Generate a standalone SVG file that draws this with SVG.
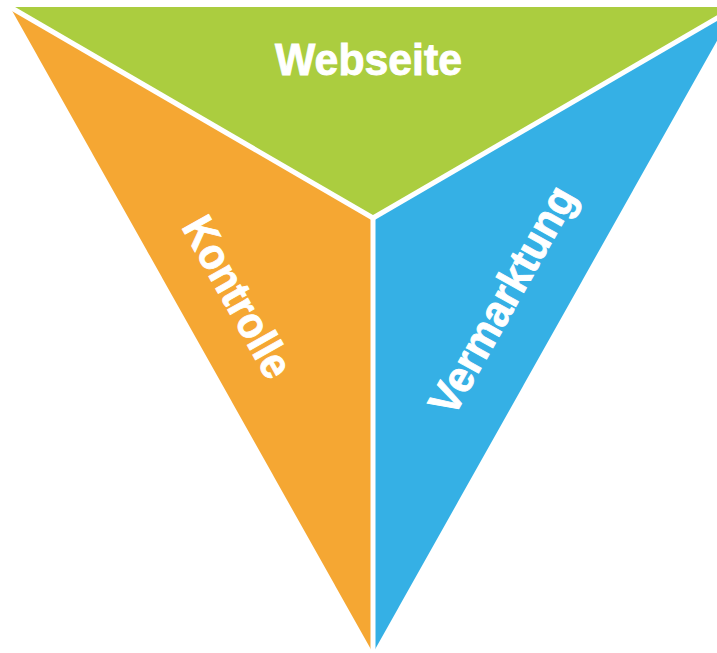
<svg xmlns="http://www.w3.org/2000/svg" width="717" height="653" viewBox="0 0 717 653">
<style>
.lbl{font-family:"Liberation Sans","Arial",sans-serif;font-weight:bold;font-size:44px;fill:#ffffff;stroke:#ffffff;stroke-width:0.9;text-anchor:middle}
.sep{stroke:#ffffff;stroke-width:5;fill:none;stroke-linecap:butt}
</style>
<rect width="717" height="653" fill="#ffffff"/>
<g id="webseite">
<polygon points="10,7 736,7 373,218" fill="#abcd3f"/>
<text class="lbl" x="368.5" y="75" textLength="187" lengthAdjust="spacingAndGlyphs">Webseite</text>
</g>
<g id="kontrolle">
<polygon points="10,7 373,218 373,653" fill="#f5a733"/>
<text class="lbl" transform="translate(224.6,304.4) rotate(60.7)" x="0" y="0" textLength="178" lengthAdjust="spacingAndGlyphs">Kontrolle</text>
</g>
<g id="vermarktung">
<polygon points="736,7 373,218 373,653" fill="#35b0e5"/>
<text class="lbl" transform="translate(515.4,307.4) rotate(-60.7)" x="0" y="0" textLength="254" lengthAdjust="spacingAndGlyphs">Vermarktung</text>
</g>
<g id="connectors">
<line class="sep" x1="373" y1="218" x2="10" y2="7"/>
<line class="sep" x1="373" y1="218" x2="736" y2="7"/>
<line class="sep" x1="373" y1="218" x2="373" y2="653" stroke-width="4"/>
</g>
</svg>
